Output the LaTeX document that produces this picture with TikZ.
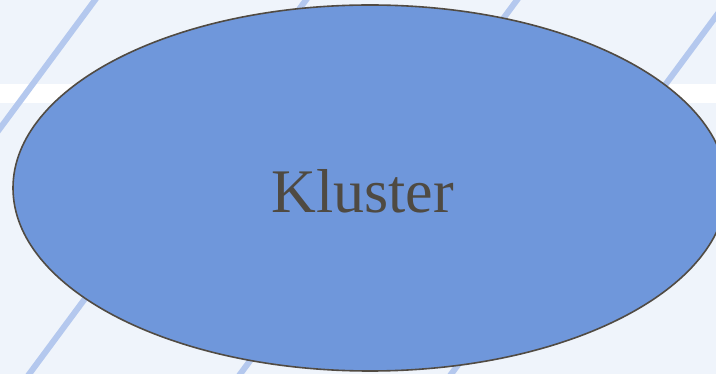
\documentclass[tikz,border=0pt]{standalone}
\usepackage{fontspec}
\setmainfont{Liberation Serif}
\usetikzlibrary{shapes.geometric}
\definecolor{bgcol}{HTML}{EFF4FB}
\definecolor{stripecol}{HTML}{B4C8EE}
\definecolor{fillcol}{HTML}{6F97DB}
\definecolor{edgecol}{HTML}{514B43}
\definecolor{textcol}{HTML}{4F4A42}
\tikzset{
  stripe/.style={draw=stripecol, line width=6pt},
  cluster/.style={ellipse, draw=edgecol, line width=1.6pt, fill=fillcol,
    minimum width=714pt, minimum height=366pt, inner sep=0pt,
    text=textcol, font=\fontsize{62pt}{62pt}\selectfont,
    text height=50pt, text depth=0pt}
}
\begin{document}
\begin{tikzpicture}[x=1pt,y=-1pt]
\fill[bgcol] (0,0) rectangle (716,374);
\useasboundingbox (0,0) rectangle (716,374);
\fill[white] (0,84) rectangle (716,103);
\foreach \x in {95,306,517,728} {
  \draw[stripe] ({\x+0.74*4},-4) -- ({\x-0.74*378},378);
}
\node[cluster] (k) at (370,188) {Kluster\hspace*{15pt}};
\end{tikzpicture}
\end{document}
